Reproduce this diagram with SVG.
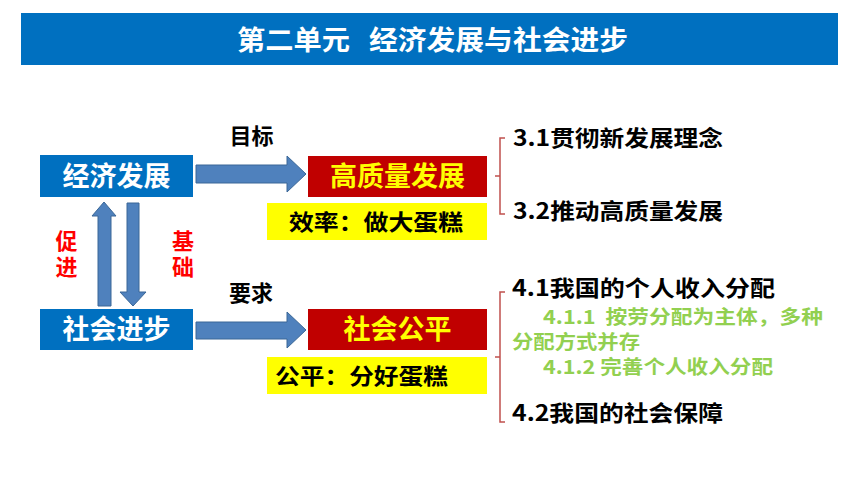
<svg xmlns="http://www.w3.org/2000/svg" width="860" height="484" viewBox="0 0 860 484">
<style>
text{font-family:"Noto Sans CJK SC","Noto Sans",sans-serif;font-weight:bold}
.blue{fill:#0070C0}
.red{fill:#C00000}
.yel{fill:#FFFF00}
.w{fill:#FFFFFF;font-size:27px}
.y{fill:#FFFF00;font-size:27px}
.k{fill:#000000;font-size:22px}
.g{fill:#92D050;font-size:19px}
.r{fill:#FF0000;font-size:22px;writing-mode:vertical-rl}
.t{fill:#FFFFFF;font-size:27px}
.arr{fill:#4F81BD;stroke:#3A6797;stroke-width:1}
.br{fill:none;stroke:#C0504D;stroke-width:1.5}
</style>
<rect width="860" height="484" fill="#FFFFFF"/>
<g id="title">
<rect x="21" y="13" width="817" height="52" class="blue"/>
<text x="237" y="50" class="t" textLength="113" lengthAdjust="spacingAndGlyphs">第二单元</text>
<text x="369" y="50" class="t" textLength="259" lengthAdjust="spacingAndGlyphs">经济发展与社会进步</text>
</g>
<g id="jjfz">
<rect x="40" y="155" width="153" height="42" class="blue"/>
<text x="116.5" y="186" class="w" text-anchor="middle">经济发展</text>
</g>
<g id="gzlfz">
<rect x="308" y="156" width="179" height="41" class="red"/>
<text x="397.5" y="186" class="y" text-anchor="middle">高质量发展</text>
</g>
<g id="xl">
<rect x="267" y="203" width="220" height="37" class="yel"/>
<text x="289" y="230" class="k" textLength="174" lengthAdjust="spacingAndGlyphs">效率：做大蛋糕</text>
</g>
<g id="shjb">
<rect x="40" y="309" width="153" height="41" class="blue"/>
<text x="116.5" y="339" class="w" text-anchor="middle">社会进步</text>
</g>
<g id="shgp">
<rect x="308" y="309" width="179" height="41" class="red"/>
<text x="397.5" y="339" class="y" text-anchor="middle">社会公平</text>
</g>
<g id="gp">
<rect x="267" y="357" width="220" height="37" class="yel"/>
<text x="275" y="384" class="k" textLength="173" lengthAdjust="spacingAndGlyphs">公平：分好蛋糕</text>
</g>
<g id="connectors">
<polygon class="arr" points="196,165 287,165 287,156 306,174 287,192 287,183 196,183"/>
<polygon class="arr" points="196,322 287,322 287,312 306,330 287,348 287,339 196,339"/>
<polygon class="arr" points="98,306 98,216 92,216 104,202 116,216 111,216 111,306"/>
<polygon class="arr" points="127,203 139,203 139,292 146,292 133,306 120,292 127,292"/>
<text x="251.5" y="144" class="k" text-anchor="middle">目标</text>
<text x="251" y="301" class="k" text-anchor="middle">要求</text>
<text x="66.5" y="230" class="r" letter-spacing="4">促进</text>
<text x="183" y="230" class="r" letter-spacing="4">基础</text>
<path class="br" d="M505,138 H500 V176 H495 M500,176 V214 H505"/>
<path class="br" d="M505,292 H500 V357 H495 M500,357 V422 H505"/>
</g>
<g id="list3">
<text x="513" y="146" class="k" textLength="210" lengthAdjust="spacingAndGlyphs">3.1贯彻新发展理念</text>
<text x="513" y="219" class="k" textLength="210" lengthAdjust="spacingAndGlyphs">3.2推动高质量发展</text>
</g>
<g id="list4">
<text x="512" y="296" class="k" textLength="263" lengthAdjust="spacingAndGlyphs">4.1我国的个人收入分配</text>
<text x="543" y="324" class="g" xml:space="preserve" textLength="280" lengthAdjust="spacingAndGlyphs">4.1.1  按劳分配为主体，多种</text>
<text x="512" y="349" class="g" textLength="128" lengthAdjust="spacingAndGlyphs">分配方式并存</text>
<text x="543" y="374" class="g" textLength="230" lengthAdjust="spacingAndGlyphs">4.1.2 完善个人收入分配</text>
<text x="512" y="421" class="k" textLength="211" lengthAdjust="spacingAndGlyphs">4.2我国的社会保障</text>
</g>
</svg>
